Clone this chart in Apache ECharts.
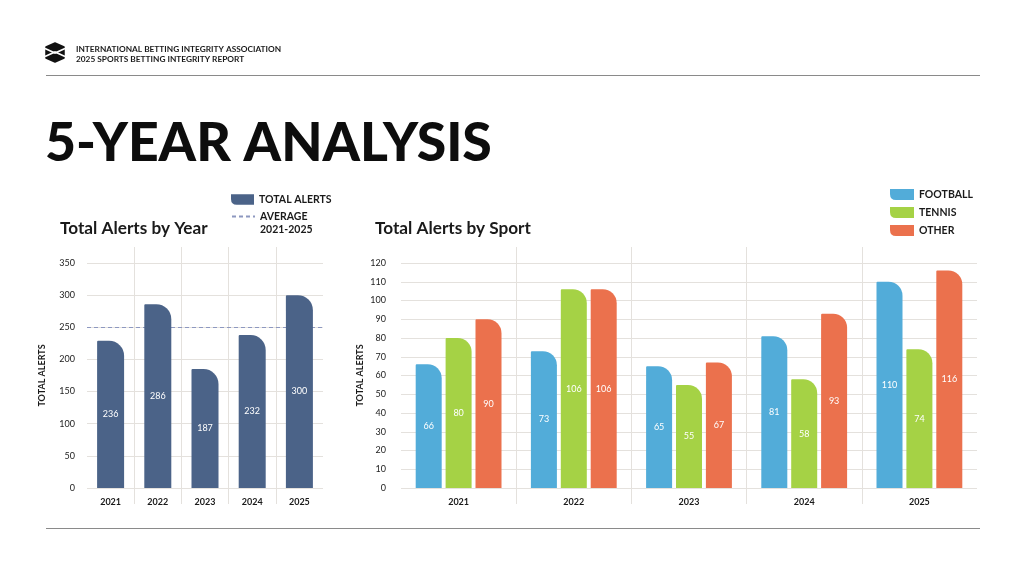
<!DOCTYPE html>
<html><head><meta charset="utf-8">
<script src="https://cdn.jsdelivr.net/npm/echarts@6/dist/echarts.min.js"></script>
<style>html,body{margin:0;padding:0;background:#fff}#c{width:1024px;height:572px}</style>
</head><body><div id="c"></div>
<script>
// ---- data ----
const years = ['2021', '2022', '2023', '2024', '2025'];
const totalAlerts = [229, 286, 185, 238, 300];          // bar heights as drawn
const totalAlertLabels = [236, 286, 187, 232, 300];     // numbers printed on the bars
const averageAlerts = 250;                              // dashed average line 2021-2025
const football = [66, 73, 65, 81, 110];
const tennis = [80, 106, 55, 58, 74];
const other = [90, 106, 67, 93, 116];
const leftAxisMax = 350, leftAxisStep = 50;
const rightAxisMax = 120, rightAxisStep = 10;

// ---- style ----
const FONT = 'Lato, "Noto Sans", sans-serif';
const INK = '#1a1a1a';
const GRID = '#e4e1dd';
const C_TOTAL = '#4b6388', C_FOOT = '#52acd9', C_TEN = '#a5d245', C_OTH = '#eb714d', C_AVG = '#8d98c0';
const SWATCH = 'path://M0,0H24V11H6Q0,11,0,5Z';

const chart = echarts.init(document.getElementById('c'), null, {renderer: 'canvas'});

const catAxis = (grid) => ({
  gridIndex: grid, type: 'category', data: years,
  axisLine: {show: false}, axisTick: {show: false},
  axisLabel: {margin: 10, fontSize: 9, fontWeight: 'bold', color: INK, fontFamily: FONT},
  splitLine: {show: false}
});
const sepAxis = (grid) => ({
  gridIndex: grid, type: 'category', data: years,
  axisLine: {show: false}, axisTick: {show: false}, axisLabel: {show: false},
  splitLine: {show: true, showMinLine: false, showMaxLine: false, lineStyle: {color: GRID, width: 1}}
});
const valAxis = (grid, max, step, gap, margin) => ({
  gridIndex: grid, type: 'value', min: 0, max: max, interval: step,
  name: 'TOTAL ALERTS', nameLocation: 'middle', nameGap: gap, nameMoveOverlap: false,
  nameTextStyle: {fontSize: 9, fontWeight: 'bold', color: INK, fontFamily: FONT},
  axisLine: {show: false}, axisTick: {show: false},
  axisLabel: {margin: margin, fontSize: 9, color: '#222', fontFamily: FONT},
  splitLine: {show: true, lineStyle: {color: GRID, width: 1}}
});
const barLabel = {show: true, position: 'inside', color: '#fff', fontSize: 9, fontFamily: FONT};
const sportBar = (name, data, color) => ({
  name: name, type: 'bar', xAxisIndex: 1, yAxisIndex: 1, data: data,
  barWidth: 26, barGap: '15%', z: 3,
  itemStyle: {color: color, borderRadius: [1, 14, 0, 0]},
  label: barLabel
});
const legendText = {fontSize: 10.5, fontWeight: 'bold', color: INK, fontFamily: FONT};

const option = {
  animation: false,
  backgroundColor: '#ffffff',
  textStyle: {fontFamily: FONT},
  grid: [
    {left: 87, width: 236, top: 263, height: 225},
    {left: 401, width: 576, top: 263, height: 225},
    {left: 87, width: 236, top: 247, height: 257},
    {left: 401, width: 576, top: 247, height: 257}
  ],
  xAxis: [catAxis(0), catAxis(1), sepAxis(2), sepAxis(3)],
  yAxis: [
    valAxis(0, leftAxisMax, leftAxisStep, 40, 12),
    valAxis(1, rightAxisMax, rightAxisStep, 36, 15),
    {gridIndex: 2, type: 'value', show: false},
    {gridIndex: 3, type: 'value', show: false}
  ],
  legend: [
    {data: [{name: 'TOTAL ALERTS', icon: SWATCH}], left: 231, top: 194, padding: 0,
     itemWidth: 23, itemHeight: 11, selectedMode: false, textStyle: legendText},
    {data: [{name: 'AVERAGE 2021-2025', itemStyle: {opacity: 0}}], left: 231, top: 197, padding: 0,
     itemWidth: 23, itemHeight: 11, selectedMode: false,
     formatter: () => ' \nAVERAGE\n2021-2025',
     textStyle: Object.assign({}, legendText, {lineHeight: 13})},
    {data: [{name: 'FOOTBALL', icon: SWATCH}, {name: 'TENNIS', icon: SWATCH}, {name: 'OTHER', icon: SWATCH}],
     orient: 'vertical', left: 890, top: 189, padding: 0, itemGap: 7,
     itemWidth: 24, itemHeight: 11, selectedMode: false, textStyle: legendText}
  ],
  series: [
    {name: 'TOTAL ALERTS', type: 'bar', xAxisIndex: 0, yAxisIndex: 0, data: totalAlerts,
     barWidth: 27, z: 3,
     itemStyle: {color: C_TOTAL, borderRadius: [1, 15, 0, 0]},
     label: Object.assign({}, barLabel, {formatter: (p) => String(totalAlertLabels[p.dataIndex])})},
    {name: 'AVERAGE 2021-2025', type: 'line', xAxisIndex: 0, yAxisIndex: 0, data: [],
     symbol: 'none', showSymbol: false, z: 1, color: C_AVG,
     lineStyle: {type: [4, 3], color: C_AVG, width: 1},
     markLine: {silent: true, symbol: 'none', z: 1, label: {show: false},
       lineStyle: {type: [4, 3], color: C_AVG, width: 1},
       data: [{yAxis: averageAlerts}]}},
    sportBar('FOOTBALL', football, C_FOOT),
    sportBar('TENNIS', tennis, C_TEN),
    sportBar('OTHER', other, C_OTH)
  ],
  graphic: [
    // logo
    {type: 'polygon', shape: {points: [[46, 47], [55, 43], [64, 47], [64, 58], [55, 62], [46, 58]]},
     style: {fill: '#111', lineJoin: 'round', stroke: '#111', lineWidth: 1.5}},
    {type: 'polyline', shape: {points: [[45, 48.5], [55, 53], [65, 48.5]]}, style: {stroke: '#fff', lineWidth: 1.6, fill: null}},
    {type: 'polyline', shape: {points: [[45, 56.5], [55, 52], [65, 56.5]]}, style: {stroke: '#fff', lineWidth: 1.6, fill: null}},
    // header text
    {type: 'text', x: 76, y: 49, style: {text: 'INTERNATIONAL BETTING INTEGRITY ASSOCIATION', fill: INK,
      fontSize: 8.3, fontWeight: 'bold', fontFamily: FONT, verticalAlign: 'middle'}},
    {type: 'text', x: 76, y: 59, style: {text: '2025 SPORTS BETTING INTEGRITY REPORT', fill: INK,
      fontSize: 8.3, fontWeight: 'bold', fontFamily: FONT, verticalAlign: 'middle'}},
    {type: 'line', shape: {x1: 46, y1: 75.5, x2: 980, y2: 75.5}, style: {stroke: '#8a8a8a', lineWidth: 1}},
    {type: 'line', shape: {x1: 46, y1: 528.5, x2: 980, y2: 528.5}, style: {stroke: '#8a8a8a', lineWidth: 1}},
    // titles
    {type: 'text', x: 45, y: 144, style: {text: '5-YEAR ANALYSIS', fill: '#0d0d0d',
      fontSize: 53.5, fontWeight: 900, fontFamily: FONT, verticalAlign: 'middle'}},
    {type: 'text', x: 60, y: 228, style: {text: 'Total Alerts by Year', fill: INK,
      fontSize: 17.2, fontWeight: 'bold', fontFamily: FONT, verticalAlign: 'middle'}},
    {type: 'text', x: 375, y: 228, style: {text: 'Total Alerts by Sport', fill: INK,
      fontSize: 17.2, fontWeight: 'bold', fontFamily: FONT, verticalAlign: 'middle'}}
  ]
};
chart.setOption(option);
</script>
</body></html>
